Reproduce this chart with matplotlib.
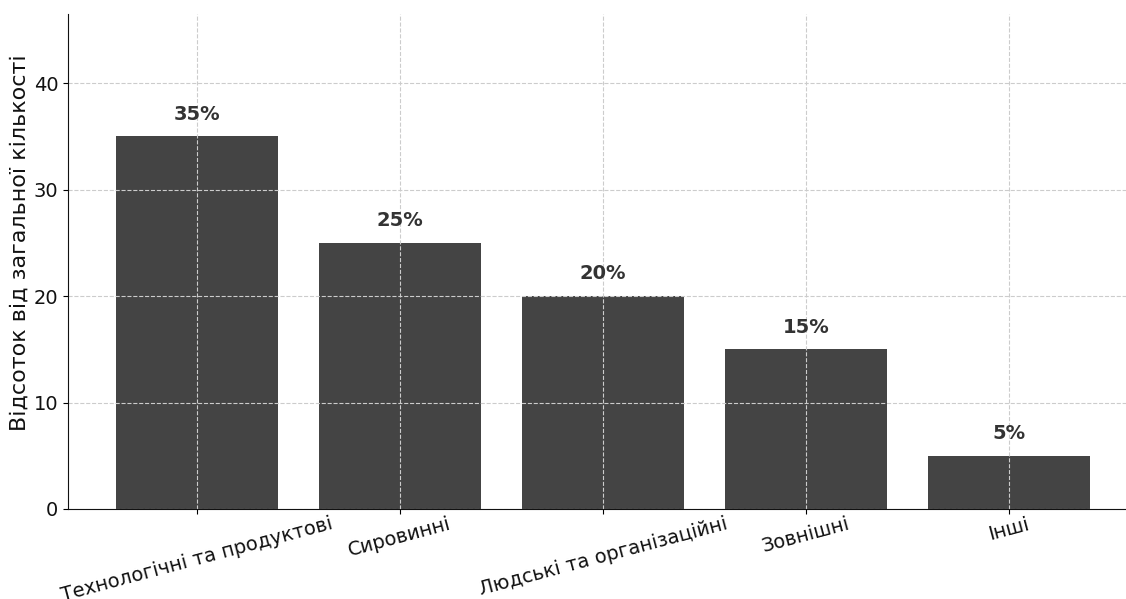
import matplotlib.pyplot as plt
import numpy as np

categories = ["Технологічні та продуктові", "Сировинні", "Людські та організаційні", "Зовнішні", "Інші"]
values = [35, 25, 20, 15, 5]
labels = ["35%", "25%", "20%", "15%", "5%"]

fig = plt.figure(figsize=(11.26, 5.99), dpi=100)
ax = fig.add_axes([68 / 1126, 1 - 509 / 599, 1 - 68 / 1126, (509 - 14) / 599])

x = np.arange(len(categories))
ax.bar(x, values, width=0.8, color="#444444")

for xi, v, lab in zip(x, values, labels):
    ax.text(xi, v + 1.2, lab, ha="center", va="bottom", fontsize=14,
            fontweight="bold", color="#333333")

ax.set_xticks(x)
ax.set_xticklabels(categories, rotation=15, ha="center", fontsize=14, color="#111111")
ax.tick_params(axis="x", pad=0.5)
ax.tick_params(axis="y", labelsize=14, labelcolor="#111111")
ax.set_yticks([0, 10, 20, 30, 40])
ax.set_ylim(0, 46.5)
ax.set_xlim(-0.635, 4.576)
ax.set_ylabel("Відсоток від загальної кількості", fontsize=16, color="#111111")
ax.yaxis.set_label_coords(-0.036, 0.537)

ax.grid(True, linestyle="--", color="#cccccc", linewidth=0.8)
ax.spines["top"].set_visible(False)
ax.spines["right"].set_visible(False)
ax.spines["left"].set_color("#111111")
ax.spines["bottom"].set_color("#111111")

fig.savefig("out.png", dpi=100)
